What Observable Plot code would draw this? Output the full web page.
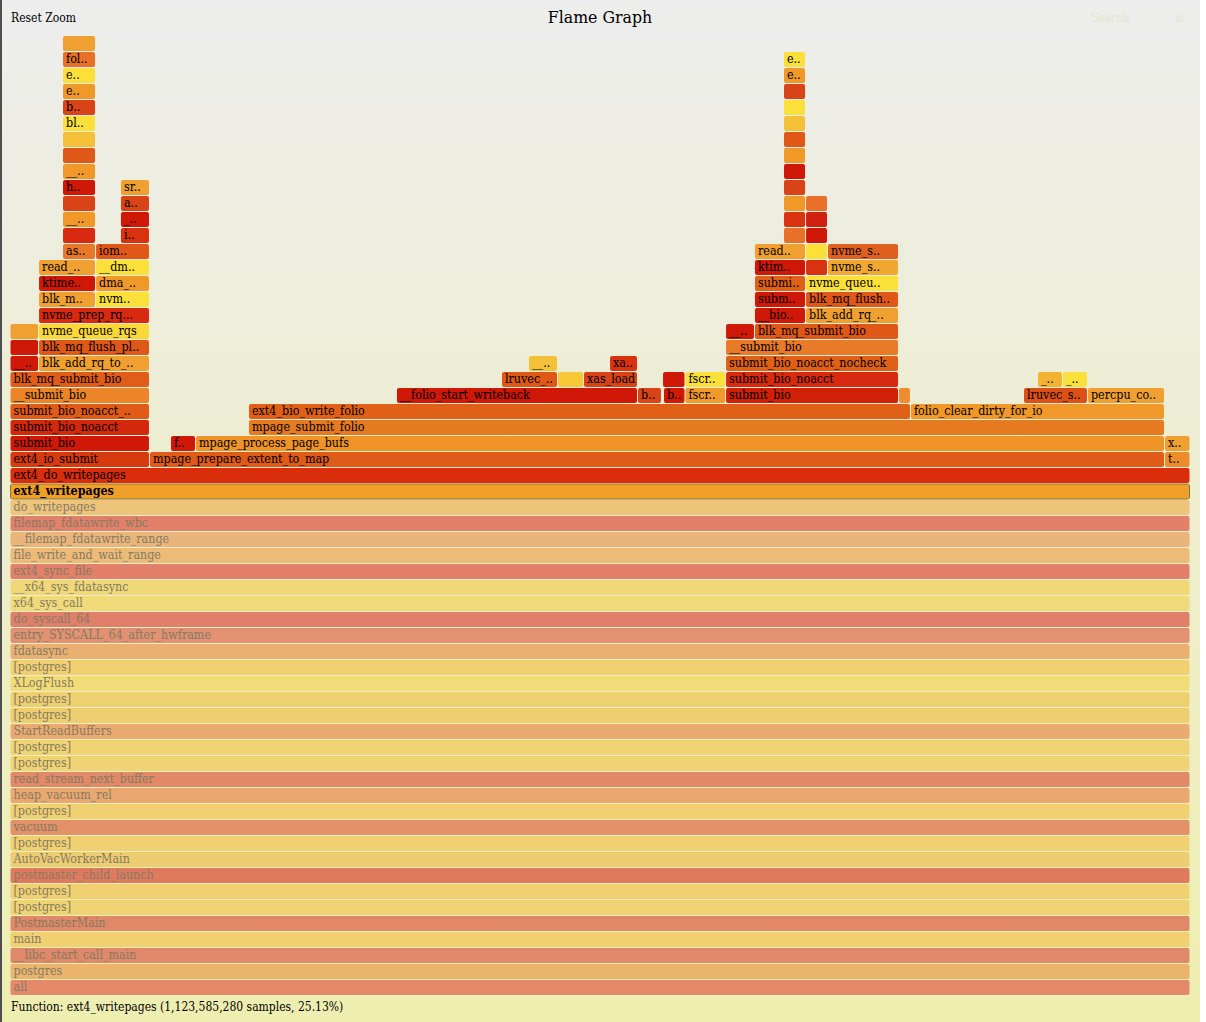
<!DOCTYPE html>
<html><head><meta charset="utf-8">
<script src="https://cdn.jsdelivr.net/npm/d3@7"></script>
<script src="https://cdn.jsdelivr.net/npm/@observablehq/plot@0.6"></script>
<style>
html,body{margin:0;padding:0;background:#fff;}
#wrap{position:relative;width:1200px;height:1022px;background:linear-gradient(to bottom,#ededed 0%,#eeeeb0 100%);font-family:"DejaVu Serif Condensed","DejaVu Serif",serif;font-stretch:condensed;overflow:hidden;}
#chart{position:absolute;left:0;top:0;}
.lbl{position:absolute;white-space:nowrap;line-height:1;}
#edge{position:absolute;left:0;top:0;width:2px;height:1022px;background:#4e4e4e;}
</style></head><body>
<div id="wrap">
  <div id="chart"></div>
  <div class="lbl" style="left:11px;top:12px;font-size:12px;color:#000">Reset Zoom</div>
  <div class="lbl" style="left:0;width:1200px;text-align:center;top:9px;font-size:17.5px;color:#000">Flame Graph</div>
  <div class="lbl" style="left:1091px;top:12px;font-size:12px;color:#e6e6cc">Search</div>
  <div class="lbl" style="left:1175px;top:12px;font-size:12px;color:#e6e6cc">ic</div>
  <div class="lbl" id="details" style="left:11px;top:1000.5px;font-size:12px;color:#000"></div>
  <div id="edge"></div>
</div>
<script>
// ---- Data ----
// Ancestor stack (from "all" upward), shown faded below the zoomed frame
const ancestorNames = ["all","postgres","__libc_start_call_main","main","PostmasterMain","[postgres]","[postgres]",
  "postmaster_child_launch","AutoVacWorkerMain","[postgres]","vacuum","[postgres]","heap_vacuum_rel",
  "read_stream_next_buffer","[postgres]","[postgres]","StartReadBuffers","[postgres]","[postgres]","XLogFlush",
  "[postgres]","fdatasync","entry_SYSCALL_64_after_hwframe","do_syscall_64","x64_sys_call","__x64_sys_fdatasync",
  "ext4_sync_file","file_write_and_wait_range","__filemap_fdatawrite_range","filemap_fdatawrite_wbc","do_writepages"];
const ancestorColors = ["#E48A6A","#EBB46C","#E0886A","#F0D070","#E08868","#F0D474","#F0D070",
  "#E07A5E","#EECC70","#F0D070","#E49068","#F0D070","#EAA870",
  "#E28A68","#F0D474","#F0D474","#EBAA70","#EFCE70","#EFD070","#F2DC78",
  "#F0D070","#EAB072","#E29272","#E0806A","#F0DA7A","#F0D878",
  "#E2806A","#EDBA78","#EAB57A","#E2806A","#EEC47A"];

// Zoomed frame
const rootName = "ext4_writepages";
const rootSamples = "1,123,585,280";
const rootPercent = "25.13%";

// Children of the zoomed frame, one entry per level above it (start/end in % of ext4_writepages samples)
const levelStarts = [
  [0],
  [0, 11.82, 97.84],
  [0, 13.60, 15.72, 97.84],
  [0, 20.21],
  [0, 20.21, 76.31],
  [0, 32.75, 53.18, 55.38, 57.20, 60.64, 75.30, 85.89, 91.31],
  [0, 41.65, 46.40, 48.60, 55.30, 57.20, 60.64, 87.08, 89.19],
  [0, 2.42, 43.94, 50.81, 60.64],
  [0, 2.42, 60.64],
  [0, 2.42, 60.64, 63.09],
  [2.42, 63.09, 67.42],
  [2.42, 7.25, 63.09, 67.42],
  [2.42, 7.25, 63.09, 67.42],
  [2.42, 7.25, 63.09, 67.42, 69.28],
  [4.45, 7.25, 63.09, 67.42, 69.28],
  [4.45, 9.36, 65.55, 67.42],
  [4.45, 9.36, 65.55, 67.42],
  [4.45, 9.36, 65.55, 67.42],
  [4.45, 9.36, 65.55],
  [4.45, 65.55],
  [4.45, 65.55],
  [4.45, 65.55],
  [4.45, 65.55],
  [4.45, 65.55],
  [4.45, 65.55],
  [4.45, 65.55],
  [4.45, 65.55],
  [4.45]
];
const levelEnds = [
  [100],
  [11.82, 97.84, 100],
  [11.82, 15.72, 97.84, 100],
  [11.82, 97.84],
  [11.82, 76.31, 97.84],
  [11.82, 53.18, 55.21, 57.20, 60.64, 75.30, 76.31, 91.31, 97.84],
  [11.82, 46.40, 48.60, 53.18, 57.20, 60.64, 75.30, 89.19, 91.31],
  [2.42, 11.82, 46.40, 53.18, 75.30],
  [2.42, 11.82, 75.30],
  [2.42, 11.82, 63.09, 75.30],
  [11.82, 67.42, 75.30],
  [7.25, 11.82, 67.42, 75.30],
  [7.25, 11.82, 67.42, 75.30],
  [7.25, 11.82, 67.42, 69.28, 75.30],
  [7.25, 11.82, 67.42, 69.28, 75.30],
  [7.25, 11.82, 67.42, 69.28],
  [7.25, 11.82, 67.42, 69.28],
  [7.25, 11.82, 67.42, 69.28],
  [7.25, 11.82, 67.42],
  [7.25, 67.42],
  [7.25, 67.42],
  [7.25, 67.42],
  [7.25, 67.42],
  [7.25, 67.42],
  [7.25, 67.42],
  [7.25, 67.42],
  [7.25, 67.42],
  [7.25]
];
const levelLabels = [
  ["ext4_do_writepages"],
  ["ext4_io_submit", "mpage_prepare_extent_to_map", "t.."],
  ["submit_bio", "f..", "mpage_process_page_bufs", "x.."],
  ["submit_bio_noacct", "mpage_submit_folio"],
  ["submit_bio_noacct_..", "ext4_bio_write_folio", "folio_clear_dirty_for_io"],
  ["__submit_bio", "__folio_start_writeback", "b..", "b..", "fscr..", "submit_bio", "", "lruvec_s..", "percpu_co.."],
  ["blk_mq_submit_bio", "lruvec_..", "", "xas_load", "", "fscr..", "submit_bio_noacct", "_..", "_.."],
  ["__..", "blk_add_rq_to_..", "__..", "xa..", "submit_bio_noacct_nocheck"],
  ["", "blk_mq_flush_pl..", "__submit_bio"],
  ["", "nvme_queue_rqs", "__..", "blk_mq_submit_bio"],
  ["nvme_prep_rq...", "__bio..", "blk_add_rq_.."],
  ["blk_m..", "nvm..", "subm..", "blk_mq_flush.."],
  ["ktime..", "dma_..", "submi..", "nvme_queu.."],
  ["read_..", "__dm..", "ktim..", "", "nvme_s.."],
  ["as..", "iom..", "read..", "", "nvme_s.."],
  ["", "i..", "", ""],
  ["__..", "_..", "", ""],
  ["", "a..", "", ""],
  ["h..", "sr..", ""],
  ["__..", ""],
  ["", ""],
  ["", ""],
  ["bl..", ""],
  ["b..", ""],
  ["e..", ""],
  ["e..", "e.."],
  ["fol..", "e.."],
  [""]
];
// Frame fill colours (hot palette)
const levelColors = [
  ["#D92D0C"],
  ["#D83A10", "#E05A18", "#EE8C2C"],
  ["#D01808", "#D01808", "#F09428", "#F0A030"],
  ["#D4280C", "#E67A20"],
  ["#E05A18", "#E06018", "#F0982A"],
  ["#EC8428", "#D01808", "#D84418", "#D01808", "#F09A2C", "#D02008", "#EE8C30", "#DC5018", "#F0A030"],
  ["#E05C18", "#E05818", "#F8C838", "#D84418", "#D01808", "#FAE038", "#D82A10", "#F2B430", "#FAE038"],
  ["#D01808", "#F0A030", "#F4C038", "#D83210", "#E06018"],
  ["#D01808", "#E05818", "#E87A28"],
  ["#F0A030", "#FAD838", "#D01808", "#E05818"],
  ["#D82A10", "#D01808", "#F0A030"],
  ["#F0A030", "#FAE038", "#D01808", "#E05818"],
  ["#D01808", "#F09828", "#E06018", "#FAE038"],
  ["#F0A030", "#FAE038", "#D01808", "#D83210", "#F0A830"],
  ["#E87828", "#E05818", "#F0A030", "#FAE038", "#E06020"],
  ["#D82A10", "#D83210", "#E87028", "#D01808"],
  ["#F09828", "#D01808", "#D83210", "#D02010"],
  ["#D84418", "#D84418", "#F09828", "#E87028"],
  ["#D01808", "#F0A030", "#D84418"],
  ["#F09828", "#D01808"],
  ["#E05818", "#F09828"],
  ["#F4C038", "#E05818"],
  ["#FAE038", "#F4C038"],
  ["#D84418", "#FAE038"],
  ["#F09828", "#D84418"],
  ["#FAE038", "#F09828"],
  ["#E87028", "#FAE038"],
  ["#F0A030"]
];

// ---- Build tables ----
const rootDepth = ancestorNames.length;
const ancestors = ancestorNames.map((name, i) => ({name, depth: i, start: 0, end: 100, color: ancestorColors[i]}));
const root = [{name: rootName, depth: rootDepth, start: 0, end: 100, color: "#F0A028"}];
const frames = [];
levelStarts.forEach((starts, li) => {
  starts.forEach((s, j) => {
    frames.push({name: levelLabels[li][j], depth: rootDepth + 1 + li, start: s, end: levelEnds[li][j], color: levelColors[li][j]});
  });
});

const font = "'DejaVu Serif Condensed', 'DejaVu Serif', serif";
const rectOpts = {x1: "start", x2: "end", y1: "depth", y2: d => d.depth + 1, rx: 2, insetTop: 1, insetLeft: 0.5, insetRight: 0.5};
const textOpts = {x: "start", y: d => d.depth + 0.5, text: "name", textAnchor: "start", dx: 3, dy: -0.5, fontSize: 12.4, fontFamily: font};

const chart = Plot.plot({
  width: 1200,
  height: 1022,
  margin: 0,
  style: {background: "none", fontFamily: font, overflow: "visible", fontStretch: "condensed"},
  x: {domain: [0, 100], range: [10, 1190], axis: null},
  y: {domain: [0, 61], range: [995, 19], axis: null},
  marks: [
    Plot.rect(ancestors, {...rectOpts, fill: "color"}),
    Plot.text(ancestors, {...textOpts, fill: "#857a62"}),
    Plot.rect(root, {...rectOpts, fill: "color", stroke: "#8c7434", strokeWidth: 1}),
    Plot.text(root, {...textOpts, fill: "#000", fontWeight: "bold"}),
    Plot.rect(frames, {...rectOpts, fill: "color"}),
    Plot.text(frames.filter(d => d.name), {...textOpts, fill: "#000"})
  ]
});
document.getElementById("chart").appendChild(chart);
document.getElementById("details").textContent = `Function: ${rootName} (${rootSamples} samples, ${rootPercent})`;
</script>
</body></html>
